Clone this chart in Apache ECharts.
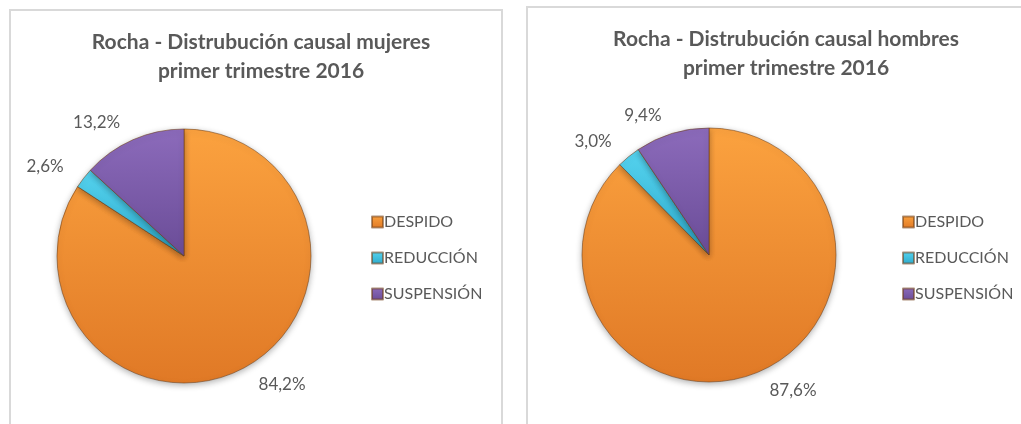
<!DOCTYPE html>
<html>
<head>
<meta charset="utf-8">
<script src="https://cdn.jsdelivr.net/npm/echarts@6/dist/echarts.min.js"></script>
<style>
  html, body { margin: 0; padding: 0; background: #fff; }
  #chart { width: 1021px; height: 424px; }
</style>
</head>
<body>
<div id="chart"></div>
<script>
// datos
var causales = ['DESPIDO', 'REDUCCIÓN', 'SUSPENSIÓN'];
var mujeres = [84.2, 2.6, 13.2];
var hombres = [87.6, 3.0, 9.4];
var titulos = [
  'Rocha - Distrubución causal mujeres\nprimer trimestre 2016',
  'Rocha - Distrubución causal hombres\nprimer trimestre 2016'
];

var colores = [
  ['#FBA23F', '#E07926'],
  ['#55D3EF', '#2DAACB'],
  ['#8C6BBB', '#6A4C97']
];

function grad(c) {
  return new echarts.graphic.LinearGradient(0, 0, 0, 1, [
    { offset: 0, color: c[0] },
    { offset: 1, color: c[1] }
  ]);
}

function datos(vals) {
  return causales.map(function (n, i) {
    return { name: n, value: vals[i], itemStyle: { color: grad(colores[i]) } };
  });
}

function fmtPct(p) {
  return p.value.toFixed(1).replace('.', ',') + '%';
}

var fuente = 'Lato, "Open Sans", sans-serif';

function pie(vals, center) {
  return {
    type: 'pie',
    center: center,
    radius: 127,
    startAngle: 90,
    clockwise: true,
    avoidLabelOverlap: false,
    data: datos(vals),
    itemStyle: {
      borderColor: 'rgba(110,60,20,0.55)',
      borderWidth: 1,
      shadowBlur: 6,
      shadowOffsetY: 2,
      shadowColor: 'rgba(0,0,0,0.3)'
    },
    label: {
      position: 'outside',
      formatter: fmtPct,
      color: '#595959',
      fontSize: 17,
      fontFamily: fuente
    },
    labelLine: { show: false, length: 19, length2: 0 },
    emphasis: { scale: false }
  };
}

function leyenda(left, top) {
  return {
    orient: 'vertical',
    left: left,
    top: top,
    data: causales,
    icon: 'rect',
    itemWidth: 11,
    itemHeight: 11,
    itemGap: 20,
    textStyle: { color: '#595959', fontSize: 16, fontFamily: fuente, padding: [0, 0, 0, -4] }
  };
}

var tituloEstilo = { color: '#595959', fontSize: 21, fontWeight: 'bold', fontFamily: fuente, lineHeight: 29 };

var chart = echarts.init(document.getElementById('chart'));
chart.setOption({
  backgroundColor: '#fff',
  animation: false,
  graphic: [
    { type: 'rect', shape: { x: 10, y: 10, width: 492, height: 500 },
      style: { fill: 'none', stroke: '#d9d9d9', lineWidth: 2 } },
    { type: 'rect', shape: { x: 527, y: 7, width: 520, height: 500 },
      style: { fill: 'none', stroke: '#d9d9d9', lineWidth: 2 } }
  ],
  title: [
    { text: titulos[0], left: 256, top: 23, textAlign: 'center', textStyle: tituloEstilo },
    { text: titulos[1], left: 781, top: 20, textAlign: 'center', textStyle: tituloEstilo }
  ],
  legend: [leyenda(366, 209), leyenda(897, 209)],
  series: [
    pie(mujeres, [184, 256]),
    pie(hombres, [709, 255])
  ]
});
</script>
</body>
</html>
